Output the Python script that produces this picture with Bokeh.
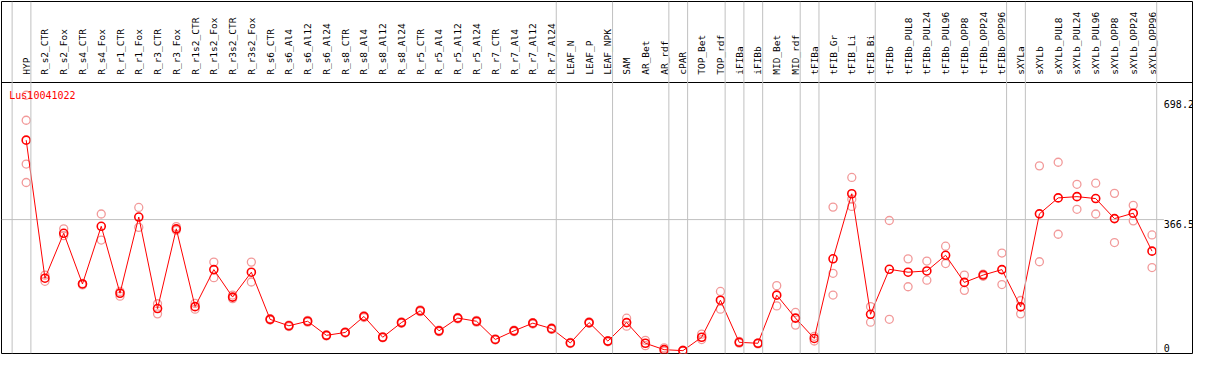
import math
from bokeh.plotting import figure
from bokeh.models import LinearAxis, FixedTicker, Span, Label, Range1d, ColumnDataSource
from bokeh.core.properties import value
from bokeh.embed import file_html
from bokeh.resources import INLINE

gene_id = "Lus10041022"

categories = [
    "HYP", "R_s2_CTR", "R_s2_Fox", "R_s4_CTR", "R_s4_Fox", "R_r1_CTR", "R_r1_Fox",
    "R_r3_CTR", "R_r3_Fox", "R_r1s2_CTR", "R_r1s2_Fox", "R_r3s2_CTR", "R_r3s2_Fox",
    "R_s6_CTR", "R_s6_Al4", "R_s6_Al12", "R_s6_Al24", "R_s8_CTR", "R_s8_Al4",
    "R_s8_Al12", "R_s8_Al24", "R_r5_CTR", "R_r5_Al4", "R_r5_Al12", "R_r5_Al24",
    "R_r7_CTR", "R_r7_Al4", "R_r7_Al12", "R_r7_Al24", "LEAF_N", "LEAF_P", "LEAF_NPK",
    "SAM", "AR_Bet", "AR_rdf", "cPAR", "TOP_Bet", "TOP_rdf", "iFIBa", "iFIBb",
    "MID_Bet", "MID_rdf", "tFIBa", "tFIB_Gr", "tFIB_Li", "tFIB_Bi", "tFIBb",
    "tFIBb_PUL8", "tFIBb_PUL24", "tFIBb_PUL96", "tFIBb_OPP8", "tFIBb_OPP24",
    "tFIBb_OPP96", "sXYLa", "sXYLb", "sXYLb_PUL8", "sXYLb_PUL24", "sXYLb_PUL96",
    "sXYLb_OPP8", "sXYLb_OPP24", "sXYLb_OPP96",
]

means = [
    586, 204.5, 328.7, 188.6, 348, 163, 373.6, 120.7, 340.9, 126, 228.3, 152.4,
    221.1, 90.8, 73.1, 85.6, 46.7, 54.6, 98.8, 41.4, 81.9, 114.6, 59.1, 94.3, 85.6,
    35.3, 59.1, 80.3, 65.2, 25.6, 81.9, 30.8, 81.9, 24.8, 7.1, 4.4, 41.4, 143.7,
    27.4, 24.8, 157.7, 94.3, 38.0, 258.1, 437.9, 104.8, 229.1, 221.1, 224.6, 267.9,
    192.9, 213.2, 228.3, 125.2, 382.4, 426.5, 429.9, 424.6, 369.2, 384.2, 279.3,
]

replicates = [
    [710, 641, 520, 469], [213, 196], [341, 322], [190, 186], [382, 310],
    [168, 155], [400, 345], [134, 106], [347, 337], [135, 119], [249, 206],
    [158, 148], [249, 194], [93, 89], [75, 71], [88, 83], [48, 45], [56, 53],
    [101, 96], [43, 40], [84, 80], [117, 112], [61, 57], [96, 92], [88, 83],
    [37, 34], [61, 57], [82, 78], [67, 63], [27, 24], [84, 80], [32, 29],
    [94, 72], [33, 18], [12, 3], [6, 3], [50, 35], [168, 119], [30, 25],
    [26, 23], [184, 128], [110, 75], [44, 31], [401, 218, 158], [483, 423, 403],
    [126, 83], [364, 91], [258, 181], [252, 199], [293, 245], [213, 171],
    [216, 210], [274, 187], [143, 106], [515, 250], [525, 326], [464, 395],
    [467, 382], [439, 303], [406, 363], [324, 234],
]

# groups end after these categories (a separator also precedes the first one)
group_ends = ["HYP", "R_r7_Al24", "LEAF_NPK", "AR_rdf", "cPAR", "TOP_rdf", "iFIBa",
              "iFIBb", "MID_rdf", "tFIBa", "tFIB_Bi", "tFIBb_OPP96", "sXYLa",
              "sXYLb_OPP96"]

y_tick_values = [0, 366.5, 698.2]
y_tick_labels = ["0", "366.5", "698.2"]

RED = "#ff0000"
PINK = "#f29a9a"
GRID = "#c0c0c0"
MONO = "DejaVu Sans Mono"

n = len(categories)
xs = list(range(n))
header_y = 744.5

p = figure(width=1193, height=354, output_backend="svg", toolbar_location=None,
           x_axis_type=None, y_axis_type=None,
           x_range=Range1d(-1.316, n + 1.158), y_range=Range1d(-3.5, 969.1),
           min_border_left=1, min_border_right=1, min_border_top=1, min_border_bottom=1)
p.outline_line_color = "black"
p.outline_line_width = 1
p.background_fill_color = "white"
p.border_fill_color = "white"

# group separators
sep_pos = [-1 + 0.25] + [categories.index(g) + 0.25 for g in group_ends]
for s in sep_pos:
    p.add_layout(Span(location=s, dimension="height", line_color=GRID, line_width=1))

# horizontal reference line at the middle tick
label_x = n - 0.37
p.segment(x0=[-1.316], x1=[label_x], y0=[y_tick_values[1]], y1=[y_tick_values[1]],
          line_color=GRID, line_width=1)

# category axis in the header
ax = LinearAxis(ticker=FixedTicker(ticks=xs),
                major_label_overrides={i: c for i, c in enumerate(categories)})
ax.fixed_location = header_y
ax.major_label_orientation = math.pi / 2
ax.major_tick_line_color = None
ax.minor_tick_line_color = None
ax.axis_line_color = "black"
ax.axis_line_width = 1
ax.major_label_standoff = 2
ax.major_label_text_font = MONO
ax.major_label_text_font_size = "9.5px"
ax.major_label_text_color = "black"
p.add_layout(ax, "above")

# replicates
rx, ry = [], []
for i, reps in enumerate(replicates):
    for r in reps:
        rx.append(i)
        ry.append(r)
p.scatter(rx, ry, marker="circle", size=8, fill_color=None, line_color=PINK, line_width=1.3)

# mean profile
p.line(xs, means, line_color=RED, line_width=1)
p.scatter(xs, means, marker="circle", size=8, fill_color=None, line_color=RED, line_width=1.6)

# value labels on right
p.text(x=[label_x, label_x], y=y_tick_values[1:], text=y_tick_labels[1:],
       text_font=value(MONO), text_font_size="10px", text_color="black",
       text_baseline="top", text_align="left")
p.text(x=[label_x], y=y_tick_values[:1], text=y_tick_labels[:1],
       text_font=value(MONO), text_font_size="10px", text_color="black",
       text_baseline="bottom", text_align="left")

p.add_layout(Label(x=-0.9, y=710, text=gene_id, text_font=MONO, text_font_size="10px",
                   text_color=RED, text_baseline="middle", text_align="left"))

open("out.html", "w").write(file_html(p, INLINE))
